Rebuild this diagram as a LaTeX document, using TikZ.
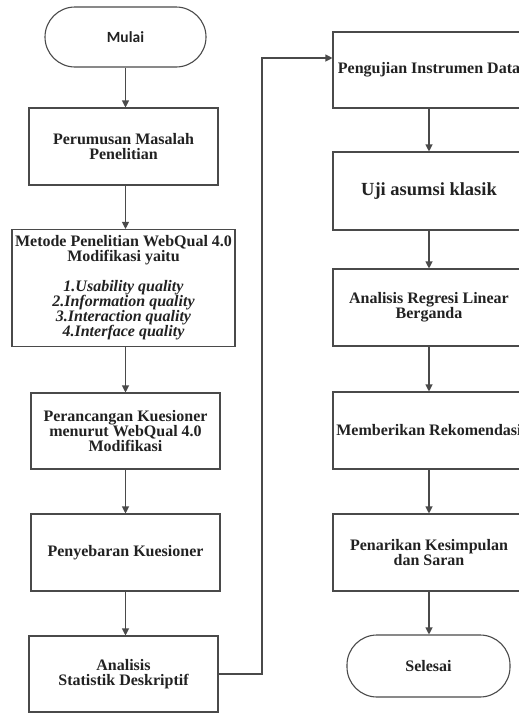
\documentclass[tikz,border=0pt]{standalone}
\usepackage{fontspec}
\setmainfont{Liberation Serif}
\newfontfamily\sansbold{Carlito}[BoldFont={* Bold}]
\usetikzlibrary{arrows.meta}
\definecolor{linegray}{HTML}{4A4A4A}
\definecolor{txt}{HTML}{222222}
\tikzset{
  boxnode/.style={draw=linegray, line width=1.1pt, fill=white, align=center, inner sep=0pt,
    text=txt, font=\fontsize{16}{15}\selectfont\bfseries},
  termnode/.style={boxnode, rounded corners=30pt},
  flowarrow/.style={draw=linegray, line width=1.1pt, -{Triangle[length=7pt,width=7pt]}},
}
\begin{document}
\begin{tikzpicture}[x=1pt,y=-1pt]
\useasboundingbox (0,0) rectangle (519,713);
\clip (0,0) rectangle (519,713);
\fill[white] (0,0) rectangle (519,713);
% left column
\node[termnode, minimum width=161pt, minimum height=60pt, font=\fontsize{15.5}{15}\sansbold\bfseries] (mulai) at (125.5,37) {Mulai};
\node[boxnode, minimum width=189pt, minimum height=77pt] (rumus) at (123.5,146.5) {Perumusan Masalah\\Penelitian};
\node[boxnode, minimum width=223pt, minimum height=117pt] (metode) at (123.5,288) {Metode Penelitian WebQual 4.0\\Modifikasi yaitu\\[15pt]\itshape 1.Usability quality\\\itshape 2.Information quality\\\itshape 3.Interaction quality\\\itshape 4.Interface quality};
\node[boxnode, minimum width=189pt, minimum height=76pt] (rancang) at (125.5,431) {Perancangan Kuesioner\\menurut WebQual 4.0\\Modifikasi};
\node[boxnode, minimum width=189pt, minimum height=77pt] (sebar) at (125.5,552.5) {Penyebaran Kuesioner};
\node[boxnode, minimum width=189pt, minimum height=76pt] (stat) at (123.5,674) {Analisis\\Statistik Deskriptif};
% right column
\node[boxnode, minimum width=192pt, minimum height=76pt] (uji) at (429,70) {Pengujian Instrumen Data};
\node[boxnode, minimum width=192pt, minimum height=78pt, font=\fontsize{18.5}{18}\selectfont\bfseries] (asumsi) at (429,191) {Uji asumsi klasik};
\node[boxnode, minimum width=192pt, minimum height=77pt] (regresi) at (429,307.5) {Analisis Regresi Linear\\Berganda};
\node[boxnode, minimum width=192pt, minimum height=77pt] (rekom) at (429,430.5) {Memberikan Rekomendasi};
\node[boxnode, minimum width=192pt, minimum height=77pt] (tarik) at (429,552.5) {Penarikan Kesimpulan\\dan Saran};
\node[termnode, minimum width=163pt, minimum height=62pt] (selesai) at (428.5,666) {Selesai};
% connectors
\coordinate (turn) at (262,58);
\draw[flowarrow] (mulai.south) -- (mulai.south |- rumus.north);
\draw[flowarrow] (rumus.south -| mulai.south) -- (mulai.south |- metode.north);
\draw[flowarrow] (metode.south -| mulai.south) -- (mulai.south |- rancang.north);
\draw[flowarrow] (rancang.south) -- (rancang.south |- sebar.north);
\draw[flowarrow] (sebar.south) -- (sebar.south |- stat.north);
\draw[flowarrow] (stat.east) -| (turn) -- (turn -| uji.west);
\draw[flowarrow] (uji.south) -- (uji.south |- asumsi.north);
\draw[flowarrow] (asumsi.south) -- (asumsi.south |- regresi.north);
\draw[flowarrow] (regresi.south) -- (regresi.south |- rekom.north);
\draw[flowarrow] (rekom.south) -- (rekom.south |- tarik.north);
\draw[flowarrow] (tarik.south) -- (tarik.south |- selesai.north);
\end{tikzpicture}
\end{document}
